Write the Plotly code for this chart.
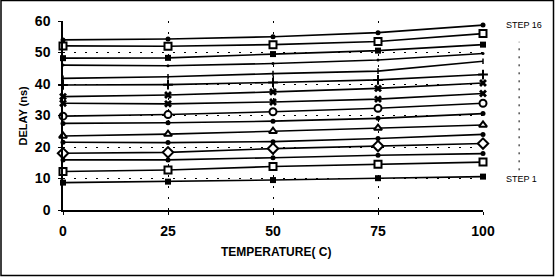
import plotly.graph_objects as go

temps = [0, 25, 50, 75, 100]

step1 = [8.7, 9.0, 9.5, 10.1, 10.6]
step2 = [12.2, 12.7, 13.8, 14.5, 15.2]
step3 = [15.9, 15.9, 16.6, 17.4, 17.9]
step4 = [18.0, 18.3, 19.5, 20.3, 21.1]
step5 = [21.5, 21.4, 21.7, 22.7, 24.0]
step6 = [23.5, 24.1, 25.0, 26.0, 27.0]
step7 = [27.5, 27.7, 28.2, 29.1, 30.6]
step8 = [29.8, 30.3, 31.2, 32.3, 33.9]
step9 = [33.9, 33.7, 34.3, 35.2, 37.0]
step10 = [36.0, 36.5, 37.5, 38.6, 40.3]
step11 = [39.7, 39.8, 40.5, 41.3, 43.0]
step12 = [41.8, 42.3, 43.3, 44.1, 47.2]
step13 = [46.0, 45.8, 46.5, 47.6, 49.7]
step14 = [48.2, 48.3, 49.5, 50.6, 52.5]
step15 = [52.1, 52.0, 52.5, 53.5, 56.0]
step16 = [54.0, 54.3, 55.0, 56.3, 58.7]

y_ticks = [0, 10, 20, 30, 40, 50, 60]
x_ticks = [0, 25, 50, 75, 100]

steps = [step1, step2, step3, step4, step5, step6, step7, step8,
         step9, step10, step11, step12, step13, step14, step15, step16]

dot = dict(symbol="circle", size=5, color="black")
open_sq = dict(symbol="square", size=7, color="white", line=dict(color="black", width=2))
fill_sq = dict(symbol="square", size=6, color="black")
open_ci = dict(symbol="circle", size=7, color="white", line=dict(color="black", width=2))
open_tri = dict(symbol="triangle-up", size=7, color="white", line=dict(color="black", width=2))
open_dia = dict(symbol="diamond", size=8, color="white", line=dict(color="black", width=2))
xmark = dict(symbol="x", size=7, color="black", line=dict(width=0))
plus = dict(symbol="cross-thin-open", size=7, line=dict(color="black", width=2))
tick = dict(symbol="line-ns-open", size=4, line=dict(color="black", width=1.5))
tiny = dict(symbol="circle", size=3, color="black")

markers = [fill_sq, open_sq, dot, open_dia, dot, open_tri, dot, open_ci,
           xmark, xmark, plus, tick, tiny, fill_sq, open_sq, dot]

fig = go.Figure()
for i, (ys, mk) in enumerate(zip(steps, markers)):
    fig.add_trace(go.Scatter(
        x=temps, y=ys, mode="lines+markers", name=f"STEP {i+1}",
        line=dict(color="black", width=1.6), marker=mk, cliponaxis=False,
    ))

tickfont = dict(family="Liberation Sans", size=14, color="black", weight="bold")
fig.update_layout(
    width=555, height=277,
    margin=dict(l=63, r=72, t=21, b=67),
    paper_bgcolor="white", plot_bgcolor="white",
    showlegend=False,
    xaxis=dict(range=[0, 100], tickvals=x_ticks, ticktext=[str(v) for v in x_ticks],
               showgrid=True, gridcolor="black", gridwidth=1.2, griddash="2px,9px",
               zeroline=False, showline=True, linecolor="black", linewidth=1.5,
               ticks="outside", ticklen=3, tickcolor="black", tickfont=tickfont,
               ticklabelstandoff=4),
    yaxis=dict(range=[0, 60], tickvals=y_ticks, ticktext=[str(v) for v in y_ticks],
               showgrid=True, gridcolor="black", gridwidth=1.2, griddash="2px,9px",
               zeroline=False, showline=True, linecolor="black", linewidth=1.5,
               ticks="outside", ticklen=3, tickcolor="black", tickfont=tickfont,
               ticklabelstandoff=5),
)

fig.add_annotation(text="TEMPERATURE( C)", xref="paper", yref="paper",
                   x=0.506, y=-0.222, showarrow=False, xanchor="center", yanchor="middle",
                   font=dict(family="Liberation Sans", size=12, color="black", weight="bold"))
fig.add_annotation(text="DELAY (ns)", xref="paper", yref="paper",
                   x=-0.0976, y=0.5, showarrow=False, textangle=-90,
                   xanchor="center", yanchor="middle",
                   font=dict(family="Liberation Sans", size=11, color="black", weight="bold"))
fig.add_annotation(text="STEP 16", xref="paper", yref="paper",
                   x=1.05, y=0.977, showarrow=False, xanchor="left", yanchor="middle",
                   font=dict(family="Liberation Sans", size=9, color="black"))
fig.add_annotation(text="STEP 1", xref="paper", yref="paper",
                   x=1.05, y=0.164, showarrow=False, xanchor="left", yanchor="middle",
                   font=dict(family="Liberation Sans", size=9, color="black"))

fig.add_shape(type="line", xref="paper", yref="paper",
              x0=1.086, x1=1.086, y0=0.21, y1=0.89,
              line=dict(color="black", width=1, dash="2px,6px"))
fig.add_shape(type="rect", xref="paper", yref="paper",
              x0=(1 - 63) / 420, x1=(553.5 - 63) / 420,
              y0=(210 - 275.5) / 189, y1=(210 - 0.5) / 189,
              line=dict(color="black", width=1.5))

fig.write_html("out.html")
